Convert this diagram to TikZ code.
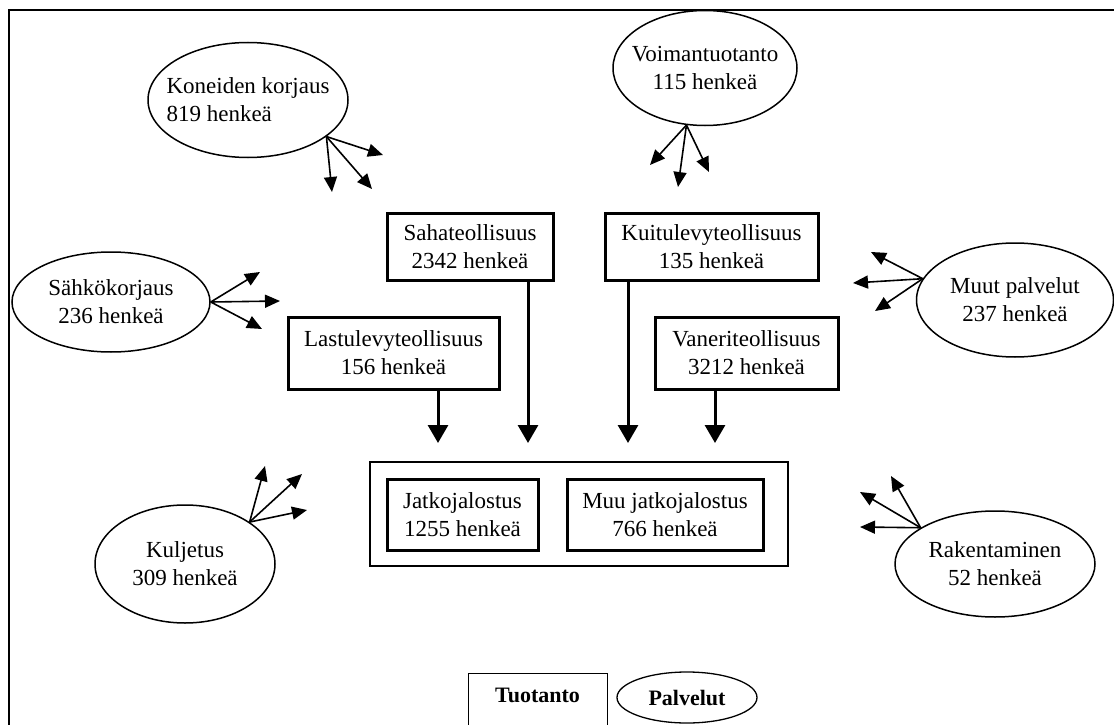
\documentclass[tikz,border=0pt]{standalone}
\usepackage{fontspec}
\setmainfont{Liberation Serif}
\usetikzlibrary{shapes.geometric,arrows.meta}
\tikzset{
  serv/.style={ellipse, draw, line width=1.5pt, inner sep=0pt},
  servtext/.style={font=\fontsize{23}{28}\selectfont, align=center},
  prod/.style={rectangle, draw, line width=3pt, inner sep=0pt, align=center,
    font=\fontsize{23}{28}\selectfont},
  thin arrow/.style={line width=1.6pt, -{Triangle[length=15pt,width=13pt]}},
  thick arrow/.style={line width=3pt, -{Triangle[length=18pt,width=20pt]}},
}
\begin{document}
\begin{tikzpicture}[x=1pt,y=-1pt]
\useasboundingbox (0,0) rectangle (1114,725);
% frame
\draw[line width=1.2pt] (9,740) -- (9,10) -- (1120,10);

% services (ellipses)
\node[serv, minimum width=200pt, minimum height=115pt,
  label={[servtext, align=left]center:Koneiden korjaus\\819 henkeä}] (kon) at (248,100) {};
\node[serv, minimum width=184pt, minimum height=115pt,
  label={[servtext]center:Voimantuotanto\\115 henkeä}] (voi) at (705,68) {};
\node[serv, minimum width=198pt, minimum height=100pt,
  label={[servtext]center:Sähkökorjaus\\236 henkeä}] (sah) at (111,302) {};
\node[serv, minimum width=197pt, minimum height=114pt,
  label={[servtext]center:Muut palvelut\\237 henkeä}] (muu) at (1015,300) {};
\node[serv, minimum width=180pt, minimum height=118pt,
  label={[servtext]center:Kuljetus\\309 henkeä}] (kul) at (185,564) {};
\node[serv, minimum width=200pt, minimum height=106pt,
  label={[servtext]center:Rakentaminen\\52 henkeä}] (rak) at (995,564) {};

% production boxes
\node[prod, minimum width=166pt, minimum height=67pt] (saha) at (470,246.5) {Sahateollisuus\\2342 henkeä};
\node[prod, minimum width=211pt, minimum height=72pt] (last) at (393.5,353) {Lastulevyteollisuus\\156 henkeä};
\node[prod, minimum width=213pt, minimum height=67pt] (kuit) at (711.5,246.5) {Kuitulevyteollisuus\\135 henkeä};
\node[prod, minimum width=183pt, minimum height=72pt] (van) at (746.5,353) {Vaneriteollisuus\\3212 henkeä};

% container
\node[draw, line width=2pt, minimum width=418pt, minimum height=104pt, inner sep=0pt] (cont) at (579,514) {};
\node[prod, minimum width=151pt, minimum height=71pt] (jat) at (462.5,514.5) {Jatkojalostus\\1255 henkeä};
\node[prod, minimum width=196pt, minimum height=71pt] (mjat) at (665,514.5) {Muu jatkojalostus\\766 henkeä};

% thick arrows into container
\coordinate (a1) at (438,443);
\coordinate (a2) at (528,443);
\coordinate (a3) at (628,443);
\coordinate (a4) at (715,443);
\draw[thick arrow] (last.south -| a1) -- (a1);
\draw[thick arrow] (saha.south -| a2) -- (a2);
\draw[thick arrow] (kuit.south -| a3) -- (a3);
\draw[thick arrow] (van.south -| a4) -- (a4);

% small arrows
\coordinate (k1) at (332,192);
\coordinate (k2) at (372,189);
\coordinate (k3) at (383,155);
\draw[thin arrow] (kon.-25) -- (k1);
\draw[thin arrow] (kon.-25) -- (k2);
\draw[thin arrow] (kon.-25) -- (k3);

\coordinate (v1) at (650,165);
\coordinate (v2) at (678,187);
\coordinate (v3) at (709,172);
\draw[thin arrow] (voi.-108) -- (v1);
\draw[thin arrow] (voi.-108) -- (v2);
\draw[thin arrow] (voi.-108) -- (v3);

\coordinate (s1) at (260,272);
\coordinate (s2) at (280,301);
\coordinate (s3) at (262,329);
\draw[thin arrow] (sah.east) -- (s1);
\draw[thin arrow] (sah.east) -- (s2);
\draw[thin arrow] (sah.east) -- (s3);

\coordinate (m1) at (871,252);
\coordinate (m2) at (853,283);
\coordinate (m3) at (875,311);
\draw[thin arrow] (muu.167) -- (m1);
\draw[thin arrow] (muu.167) -- (m2);
\draw[thin arrow] (muu.167) -- (m3);

\coordinate (q1) at (265,466);
\coordinate (q2) at (302,474);
\coordinate (q3) at (307,510);
\draw[thin arrow] (kul.33) -- (q1);
\draw[thin arrow] (kul.33) -- (q2);
\draw[thin arrow] (kul.33) -- (q3);

\coordinate (r1) at (891,476);
\coordinate (r2) at (860,492);
\coordinate (r3) at (860,527);
\draw[thin arrow] (rak.154) -- (r1);
\draw[thin arrow] (rak.154) -- (r2);
\draw[thin arrow] (rak.154) -- (r3);

% legend
\node[draw, line width=1.3pt, minimum width=139pt, minimum height=62pt, inner sep=0pt,
  anchor=north west] (tuo) at (468,673) {};
\node[font=\fontsize{22}{26}\selectfont\bfseries] (tuol) at (537.5,695) {Tuotanto};
\node[ellipse, draw, line width=1.3pt, minimum width=140pt, minimum height=51pt, inner sep=0pt,
  label={[font=\fontsize{22}{26}\selectfont\bfseries]center:Palvelut}] (pal) at (687,697.5) {};
\end{tikzpicture}
\end{document}
